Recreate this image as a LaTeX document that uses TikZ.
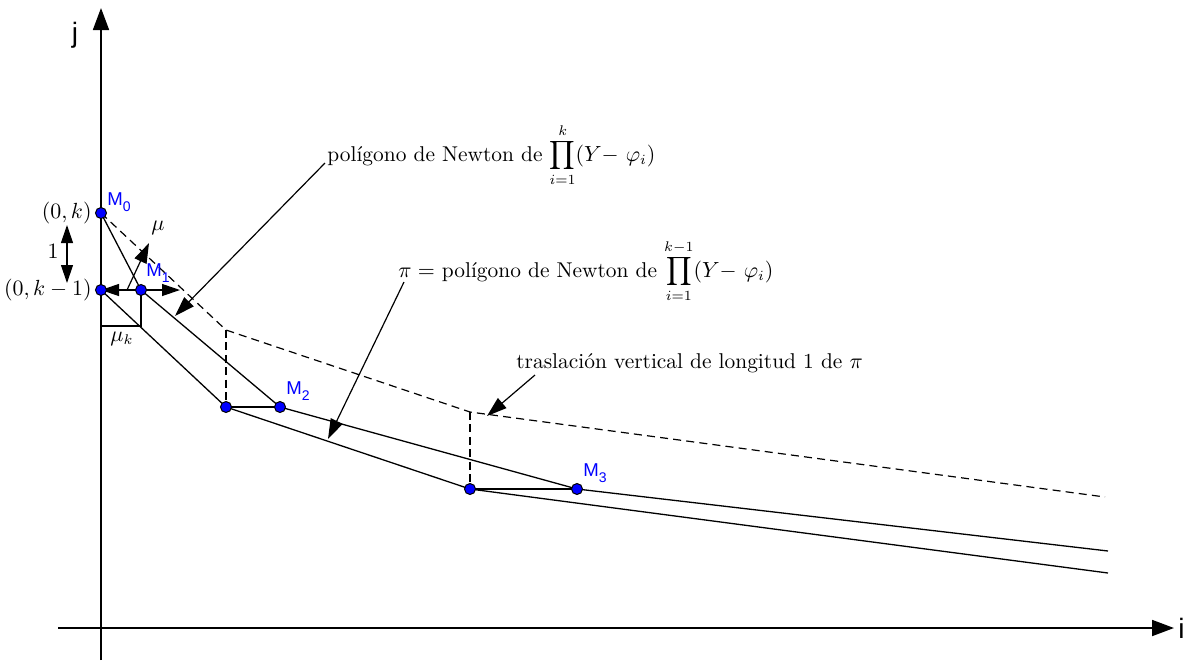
\documentclass[tikz,border=0pt]{standalone}
\usepackage{fontspec}
\newfontfamily\labfont{Liberation Sans}
\usetikzlibrary{arrows.meta,backgrounds}
\newcommand{\Mlab}[1]{M\raisebox{-3pt}{\fontsize{7}{8}\selectfont #1}}
\begin{document}
\begin{tikzpicture}[x=0.5pt,y=-0.5pt,
  pt/.style={circle,fill=blue,draw=black,line width=0.5pt,inner sep=0pt,minimum size=5.5pt},
  mlab/.style={text=blue,font=\labfont\fontsize{9.3}{10}\selectfont,inner sep=0pt,anchor=south west},
  seg/.style={line width=0.65pt},
  dsh/.style={line width=0.6pt,dash pattern=on 4pt off 2.6pt},
  vdsh/.style={line width=1pt,dash pattern=on 4pt off 2.2pt},
  ax/.style={line width=0.9pt,-{Triangle[length=11pt,width=8pt]}},
  ptr/.style={line width=0.6pt,-{Triangle[length=10pt,width=6.5pt]}},
  dbl/.style={line width=0.6pt,{Triangle[length=9pt,width=6pt]}-{Triangle[length=9pt,width=6pt]}},
  txt/.style={inner sep=0pt,font=\fontsize{10.7}{13}\selectfont}]
\useasboundingbox (0,0) rectangle (1185,661);

% axis end points
\coordinate (ybot) at (101,660);
\coordinate (ytop) at (101,8);
\coordinate (xl) at (58,628);
\coordinate (xr) at (1174,628);

% points
\node[pt] (M0) at (101,213) {};
\node[pt] (A) at (101,290) {};
\node[pt] (M1) at (141,290) {};
\node[pt] (B) at (226,407) {};
\node[pt] (M2) at (280,407) {};
\node[pt] (C) at (470,489) {};
\node[pt] (M3) at (577,489) {};
\coordinate (E1) at (1108,551);
\coordinate (E2) at (1108,573);
\coordinate (D1) at (226,330);
\coordinate (D2) at (470,412);
\coordinate (D3) at (1105,497);
\coordinate (K1) at (141,326);
\coordinate (K2) at (101,326);
\coordinate (H) at (180,290);
\coordinate (U0) at (127,290);
\coordinate (U1) at (149,243);
\coordinate (V0) at (67,225);
\coordinate (V1) at (67,283);

% point labels
\node[mlab] (lM0) at (107,212) {\Mlab{0}};
\node[mlab] (lM1) at (146,283) {\Mlab{1}};
\node[mlab] (lM2) at (286,401) {\Mlab{2}};
\node[mlab] (lM3) at (583,483) {\Mlab{3}};

% text labels
\node[txt,anchor=east] (lk) at (92,213) {$(0,k)$};
\node[txt,anchor=east] (lk1) at (92,290) {$(0,k-1)$};
\node[txt] (l1) at (53,251) {$1$};
\node[txt] (lmu) at (158,228) {$\mu$};
\node[txt] (lmuk) at (122,339) {$\mu_k$};
\node[font=\labfont\fontsize{14}{16}\selectfont,inner sep=0pt] (lj) at (75,35) {j};
\node[font=\labfont\fontsize{14}{16}\selectfont,inner sep=0pt,anchor=west] (li) at (1178,628) {i};

\node[txt,anchor=base west] (t1) at (327,161) {pol\'igono de Newton de $\displaystyle\prod_{i=1}^{k}(Y{-}\ \varphi_i)$};
\node[txt,anchor=base west] (t2) at (398,277) {$\pi=$ pol\'igono de Newton de $\displaystyle\prod_{i=1}^{k-1}(Y{-}\ \varphi_i)$};
\node[txt,anchor=base west] (t3) at (516,368) {traslaci\'on vertical de longitud 1 de $\pi$};
\coordinate (P1) at (325,163);
\coordinate (P1e) at (175,316);
\coordinate (P2) at (404,282);
\coordinate (P2e) at (328,439);
\coordinate (P3) at (535,375);
\coordinate (P3e) at (487,416);

\begin{scope}[on background layer]
  \draw[ax] (ybot) -- (ytop);
  \draw[ax] (xl) -- (xr);
  \draw[seg] (M0.center) -- (M1.center) -- (M2.center) -- (M3.center) -- (E1);
  \draw[seg] (A.center) -- (B.center) -- (C.center) -- (E2);
  \draw[seg] (B.center) -- (M2.center);
  \draw[seg] (C.center) -- (M3.center);
  \draw[seg] (M1.center) -- (K1) -- (K2);
  \draw[dsh] (M0.center) -- (D1) -- (D2) -- (D3);
  \draw[vdsh] (D1) -- (B.center);
  \draw[vdsh] (D2) -- (C.center);
  \draw[dbl] (A.center) -- (H);
  \draw[ptr] (U0) -- (U1);
  \draw[dbl] (V0) -- (V1);
  \draw[ptr] (P1) -- (P1e);
  \draw[ptr] (P2) -- (P2e);
  \draw[ptr] (P3) -- (P3e);
\end{scope}
\end{tikzpicture}
\end{document}
